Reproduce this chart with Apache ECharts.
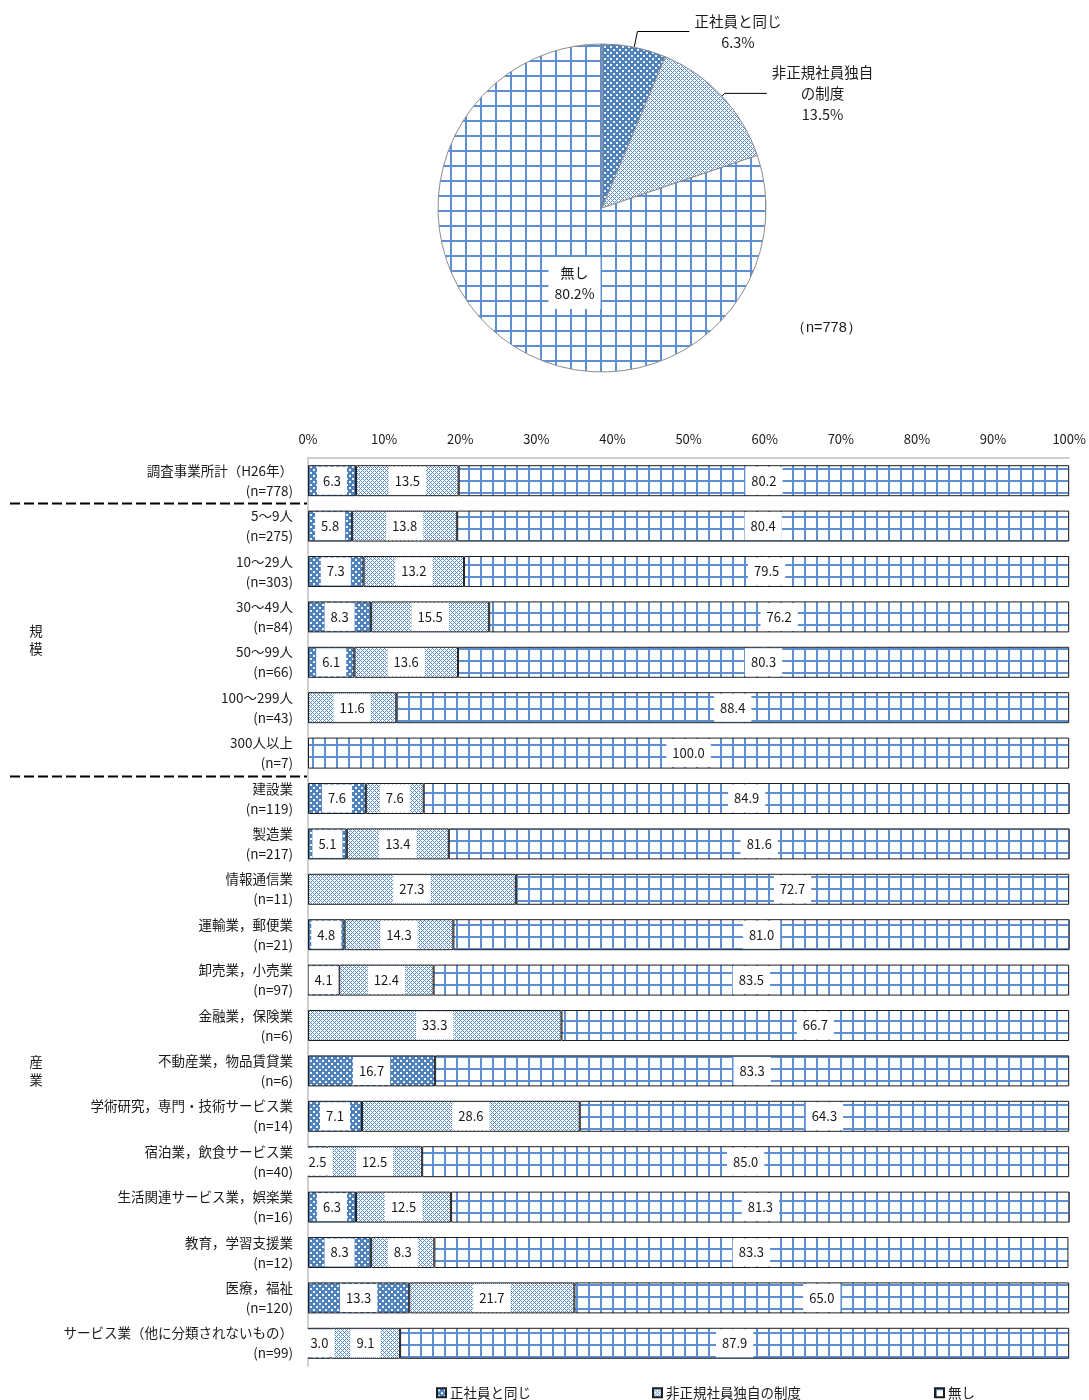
<!DOCTYPE html>
<html>
<head>
<meta charset="utf-8">
<script src="https://cdn.jsdelivr.net/npm/echarts@6/dist/echarts.min.js"></script>
<style>
  html, body { margin: 0; padding: 0; background: #fff; overflow: hidden; }
  #chart { width: 1089px; height: 1400px; }
</style>
</head>
<body>
<div id="chart"></div>
<script>
// ---- data ----
const seriesNames = ['正社員と同じ', '非正規社員独自の制度', '無し'];

// overall (pie)
const pieValues = [6.3, 13.5, 80.2];
const pieTotalN = 778;

// breakdown by size / industry (stacked bars, %)
const categories = [
  '調査事業所計（H26年）',
  '5～9人', '10～29人', '30～49人', '50～99人', '100～299人', '300人以上',
  '建設業', '製造業', '情報通信業', '運輸業，郵便業', '卸売業，小売業',
  '金融業，保険業', '不動産業，物品賃貸業', '学術研究，専門・技術サービス業',
  '宿泊業，飲食サービス業', '生活関連サービス業，娯楽業', '教育，学習支援業',
  '医療，福祉', 'サービス業（他に分類されないもの）'
];
const sampleSizes = [778, 275, 303, 84, 66, 43, 7, 119, 217, 11, 21, 97, 6, 6, 14, 40, 16, 12, 120, 99];
const sameAsRegular = [6.3, 5.8, 7.3, 8.3, 6.1, 0, 0, 7.6, 5.1, 0, 4.8, 4.1, 0, 16.7, 7.1, 2.5, 6.3, 8.3, 13.3, 3.0];
const ownSystem     = [13.5, 13.8, 13.2, 15.5, 13.6, 11.6, 0, 7.6, 13.4, 27.3, 14.3, 12.4, 33.3, 0, 28.6, 12.5, 12.5, 8.3, 21.7, 9.1];
const noSystem      = [80.2, 80.4, 79.5, 76.2, 80.3, 88.4, 100.0, 84.9, 81.6, 72.7, 81.0, 83.5, 66.7, 83.3, 64.3, 85.0, 81.3, 83.3, 65.0, 87.9];
const xTicks = [0, 10, 20, 30, 40, 50, 60, 70, 80, 90, 100];

// group captions on the left
const groups = [
  { label: '規\n模', from: 1, to: 6 },
  { label: '産\n業', from: 7, to: 19 }
];

// ---- fill patterns ----
const FONT = "'Noto Sans CJK JP', 'Noto Sans', sans-serif";
const BLUE = '#4f81bd';

function dotPattern() {
  const c = document.createElement('canvas');
  c.width = 6; c.height = 6;
  const g = c.getContext('2d');
  g.fillStyle = BLUE; g.fillRect(0, 0, 6, 6);
  g.fillStyle = '#f2f6fb';
  g.fillRect(1, 1, 2, 2);
  g.fillRect(4, 4, 2, 2);
  return { image: c, repeat: 'repeat' };
}
function latticePattern() {
  const c = document.createElement('canvas');
  c.width = 4; c.height = 4;
  const g = c.getContext('2d');
  g.fillStyle = '#ffffff'; g.fillRect(0, 0, 4, 4);
  g.fillStyle = '#5a8bcb';
  for (let x = 0; x < 4; x++) {
    for (let y = 0; y < 4; y++) {
      if ((x + y) % 4 === 0 || ((x - y) + 4) % 4 === 0) g.fillRect(x, y, 1, 1);
    }
  }
  return { image: c, repeat: 'repeat' };
}
function gridPattern(step) {
  const c = document.createElement('canvas');
  c.width = step; c.height = step;
  const g = c.getContext('2d');
  g.fillStyle = '#ffffff'; g.fillRect(0, 0, step, step);
  g.fillStyle = '#5d8fd2';
  g.fillRect(0, 0, 2, step);
  g.fillRect(0, 0, step, 2);
  return { image: c, repeat: 'repeat' };
}

const barFills = [dotPattern(), latticePattern(), gridPattern(12)];
const pieFills = [dotPattern(), latticePattern(), gridPattern(15)];
const barColumns = [sameAsRegular, ownSystem, noSystem];

// ---- chart ----
const chart = echarts.init(document.getElementById('chart'), null, { renderer: 'canvas', width: 1089, height: 1400 });

const pieLabelText = (name, value) => {
  const first = name.length > 7 ? name.slice(0, 7) + '}\n{t|' + name.slice(7) : name;
  return '{t|' + first + '}\n{t|' + value.toFixed(1) + '%}';
};

const pieLabelLines = [
  { length: 16, length2: 52 },
  { length: 4, length2: 42 },
  null
];

const pieData = pieValues.map((v, i) => {
  const item = {
    name: seriesNames[i],
    value: v,
    itemStyle: { color: pieFills[i] }
  };
  if (pieLabelLines[i]) {
    item.label = {
      position: 'outside',
      formatter: p => pieLabelText(p.name, p.value),
      rich: { t: { align: 'center', fontSize: 14.5, lineHeight: 21, color: '#1a1a1a', fontFamily: FONT } }
    };
    item.labelLine = { show: true, length: pieLabelLines[i].length, length2: pieLabelLines[i].length2,
      lineStyle: { color: '#000', width: 1 } };
  } else {
    item.label = {
      position: 'inside',
      offset: [22, 6],
      formatter: p => p.name + '\n' + p.value.toFixed(1) + '%',
      backgroundColor: '#fff',
      padding: [5, 6],
      lineHeight: 21,
      fontSize: 14,
      color: '#1a1a1a',
      fontFamily: FONT
    };
    item.labelLine = { show: false };
  }
  return item;
});

const barSeries = seriesNames.map((name, s) => ({
  name: name,
  type: 'bar',
  stack: 'total',
  barWidth: 31,
  xAxisIndex: 0,
  yAxisIndex: 0,
  data: barColumns[s].map(v => (v === 0 ? '-' : v)),
  itemStyle: { color: barFills[s], borderColor: '#1e1e1e', borderWidth: 1 },
  label: {
    show: true,
    position: 'inside',
    formatter: p => (typeof p.value === 'number' ? p.value.toFixed(1) : ''),
    backgroundColor: '#fff',
    padding: [7, 6, 6, 6],
    lineHeight: 15,
    fontSize: 13,
    color: '#1a1a1a',
    fontFamily: FONT
  },
  emphasis: { disabled: true },
  silent: true
}));

const legendLefts = [431, 647, 929];

const option = {
  animation: false,
  backgroundColor: '#fff',
  textStyle: { fontFamily: FONT },
  legend: seriesNames.map((name, i) => ({
    data: [name],
    left: legendLefts[i],
    top: 1381,
    itemWidth: 9,
    itemHeight: 9,
    itemGap: 4,
    icon: 'rect',
    selectedMode: false,
    textStyle: { fontSize: 13.5, color: '#1a1a1a', fontFamily: FONT, padding: [0, 0, 0, -1] }
  })),
  grid: { left: 308, right: 17, top: 458, bottom: 34, containLabel: false },
  xAxis: {
    type: 'value',
    position: 'top',
    min: xTicks[0],
    max: xTicks[xTicks.length - 1],
    interval: xTicks[1] - xTicks[0],
    axisLine: { show: true, lineStyle: { color: '#bfbfbf', width: 1.5 } },
    axisTick: { show: false },
    splitLine: { show: false },
    axisLabel: { formatter: '{value}%', fontSize: 13, color: '#1a1a1a', margin: 12, fontFamily: FONT }
  },
  yAxis: {
    type: 'category',
    inverse: true,
    data: categories,
    axisLine: { show: true, lineStyle: { color: '#bfbfbf', width: 1.5 } },
    axisTick: { show: false },
    axisLabel: {
      formatter: (value, idx) => value + '\n(n=' + sampleSizes[idx] + ')',
      fontSize: 13.5,
      lineHeight: 20,
      color: '#1a1a1a',
      margin: 15,
      align: 'right',
      fontFamily: FONT
    }
  },
  series: [
    {
      name: 'overall',
      type: 'pie',
      center: [602, 208],
      radius: 164,
      startAngle: 90,
      clockwise: true,
      avoidLabelOverlap: false,
      silent: true,
      itemStyle: { borderColor: '#8c8c8c', borderWidth: 1 },
      emphasis: { disabled: true },
      data: pieData
    }
  ].concat(barSeries),
  graphic: [
    {
      type: 'text',
      left: 791,
      top: 320,
      style: { text: '（n=' + pieTotalN + '）', fontSize: 14.5, fill: '#1a1a1a', font: '14.5px ' + FONT }
    }
  ]
};

chart.setOption(option);

// separators and group captions placed from the category axis
const rowY = i => chart.convertToPixel({ yAxisIndex: 0 }, categories[i]);
const bandHalf = (rowY(1) - rowY(0)) / 2;
const gridLeft = chart.convertToPixel({ xAxisIndex: 0 }, 0);
const extra = [];
[0, 6].forEach(i => {
  const y = Math.round(rowY(i) + bandHalf) + 0.5;
  extra.push({
    type: 'line',
    shape: { x1: 10, y1: y, x2: gridLeft - 1, y2: y },
    style: { stroke: '#000', lineWidth: 2, lineDash: [10, 4] },
    silent: true
  });
});
groups.forEach(g => {
  const yc = (rowY(g.from) + rowY(g.to)) / 2;
  extra.push({
    type: 'text',
    x: 36,
    y: yc,
    style: {
      text: g.label,
      font: '13.5px ' + FONT,
      fill: '#1a1a1a',
      align: 'center',
      verticalAlign: 'middle',
      lineHeight: 18
    },
    silent: true
  });
});
chart.setOption({ graphic: option.graphic.concat(extra) });
</script>
</body>
</html>
